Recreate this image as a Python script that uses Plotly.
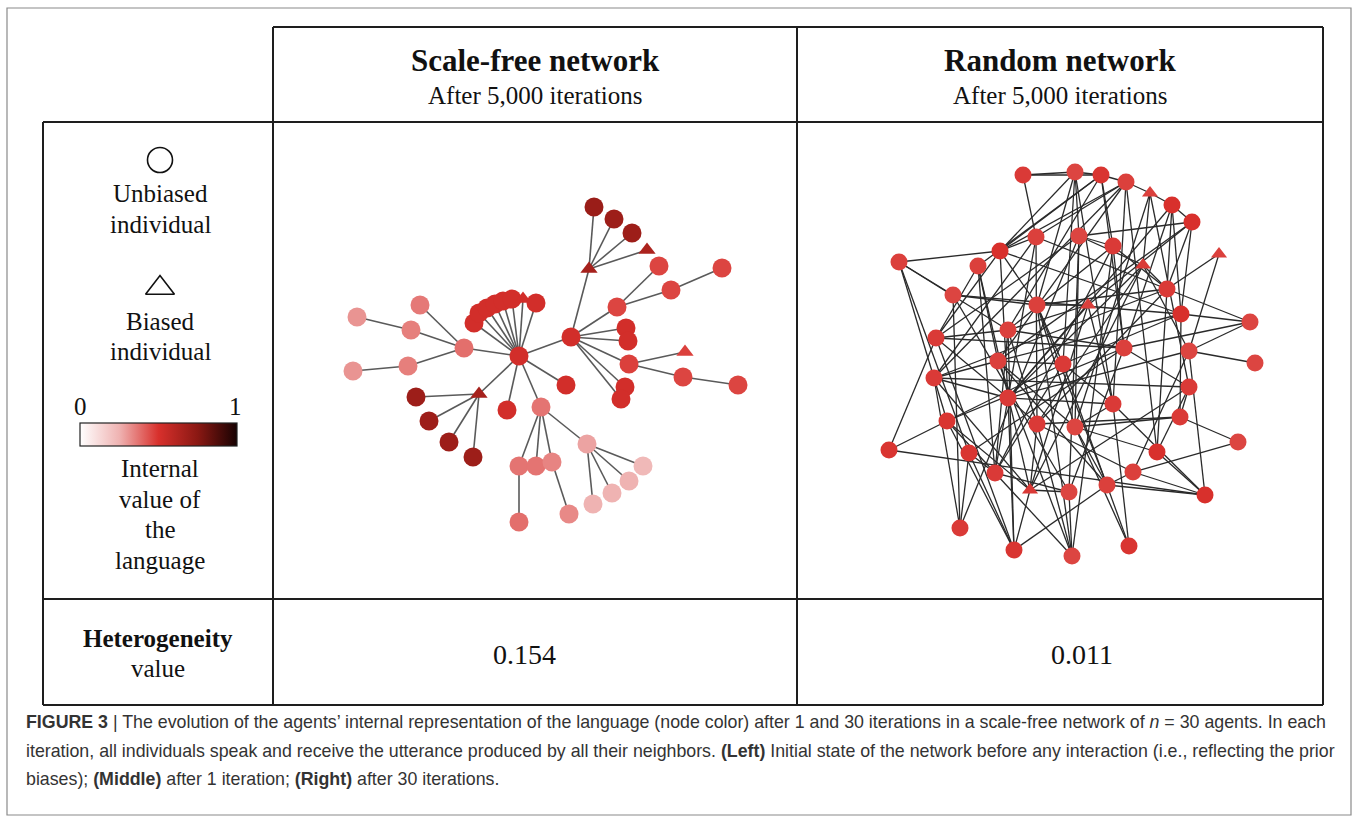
import plotly.graph_objects as go

W, H = 1357, 823

# ---------------- Scale-free network (node id: x, y, value, shape) ----------------
sf_id = ["A", "B", "C", "D", "E", "F", "G", "Hh", "I",
         "a1", "a2", "a3", "a4", "a5", "a6", "a7", "a8",
         "l1", "l2",
         "c1", "c2", "c3", "c4", "c5",
         "d1", "d2", "d3", "d4",
         "e1", "e2", "e3", "e4", "e5",
         "f1", "f2", "f3", "f4",
         "b1", "b2", "b3", "b4",
         "g1", "g2", "g3", "g4",
         "h1", "h2", "h3",
         "i1", "i2", "i3"]
sf_x = [519, 571, 464, 479, 541, 587, 589, 617, 629,
        474, 479, 487, 495, 503, 512, 523, 536,
        507, 566,
        420, 411, 408, 357, 353,
        416, 429, 449, 473,
        519, 536, 552, 519, 569,
        593, 612, 629, 643,
        626, 628, 625, 621,
        594, 614, 632, 647,
        659, 671, 722,
        685, 683, 738]
sf_y = [356, 337, 348, 394, 407, 444, 269, 307, 364,
        323, 313, 308, 304, 301, 299, 299, 303,
        410, 385,
        305, 330, 366, 317, 371,
        397, 421, 442, 457,
        466, 466, 462, 522, 514,
        504, 493, 481, 466,
        328, 341, 387, 399,
        207, 219, 233, 250,
        266, 290, 268,
        352, 377, 385]
sf_val = [0.52, 0.52, 0.38, 0.66, 0.37, 0.28, 0.66, 0.46, 0.47,
          0.52, 0.52, 0.52, 0.52, 0.52, 0.52, 0.52, 0.52,
          0.52, 0.52,
          0.36, 0.35, 0.35, 0.31, 0.31,
          0.69, 0.69, 0.69, 0.69,
          0.37, 0.37, 0.34, 0.38, 0.33,
          0.25, 0.25, 0.25, 0.23,
          0.52, 0.52, 0.52, 0.52,
          0.70, 0.69, 0.69, 0.64,
          0.46, 0.46, 0.46,
          0.47, 0.46, 0.46]
sf_shape = ["circle"] * len(sf_id)
for k in ("D", "G", "a7", "g4", "i1"):
    sf_shape[sf_id.index(k)] = "triangle-up"

sf_edges = [("A", "B"), ("A", "C"), ("A", "D"), ("A", "E"), ("A", "l1"), ("A", "l2"),
            ("A", "a1"), ("A", "a2"), ("A", "a3"), ("A", "a4"), ("A", "a5"), ("A", "a6"),
            ("A", "a7"), ("A", "a8"),
            ("C", "c1"), ("C", "c2"), ("C", "c3"), ("c2", "c4"), ("c3", "c5"),
            ("D", "d1"), ("D", "d2"), ("D", "d3"), ("D", "d4"),
            ("E", "e1"), ("E", "e2"), ("E", "e3"), ("E", "F"), ("e1", "e4"), ("e3", "e5"),
            ("F", "f1"), ("F", "f2"), ("F", "f3"), ("F", "f4"),
            ("B", "G"), ("B", "Hh"), ("B", "b1"), ("B", "b2"), ("B", "I"), ("B", "b3"), ("B", "b4"),
            ("G", "g1"), ("G", "g2"), ("G", "g3"), ("G", "g4"),
            ("Hh", "h1"), ("Hh", "h2"), ("h2", "h3"),
            ("I", "i1"), ("I", "i2"), ("i2", "i3")]

# ---------------- Random network ----------------
rn_x = [1023, 1075, 1101, 1126, 1150, 1172, 1192, 1036, 1079, 1113,
        1000, 899, 978, 1143, 1219, 1167, 953, 1037, 1088, 1181,
        1250, 1008, 936, 1124, 1189, 998, 1063, 1255, 934, 1189,
        1008, 1113, 947, 1180, 1037, 1075, 1238, 889, 969, 1157,
        995, 1133, 1107, 1069, 1030, 1205, 960, 1014, 1072, 1129]
rn_y = [175, 172, 175, 182, 193, 205, 222, 237, 236, 246,
        251, 262, 266, 265, 254, 289, 295, 305, 305, 314,
        322, 330, 338, 348, 351, 361, 364, 363, 378, 387,
        398, 404, 421, 417, 424, 427, 442, 450, 453, 452,
        473, 472, 485, 492, 490, 495, 528, 550, 556, 546]
rn_val = [0.48, 0.46, 0.49, 0.47, 0.47, 0.5, 0.5, 0.47, 0.46, 0.48,
          0.5, 0.47, 0.47, 0.48, 0.47, 0.48, 0.46, 0.47, 0.47, 0.5,
          0.46, 0.47, 0.48, 0.47, 0.46, 0.47, 0.48, 0.46, 0.48, 0.48,
          0.48, 0.48, 0.49, 0.48, 0.48, 0.46, 0.46, 0.49, 0.49, 0.5,
          0.48, 0.47, 0.47, 0.46, 0.48, 0.5, 0.48, 0.49, 0.46, 0.49]
rn_shape = ["circle"] * len(rn_x)
for k in (5, 14, 15, 19, 45):
    rn_shape[k - 1] = "triangle-up"

rn_edges = [(1, 2), (1, 8), (1, 3), (2, 3), (2, 9), (2, 18), (2, 27), (2, 32), (2, 11),
            (3, 4), (3, 11), (3, 22), (3, 24), (3, 10), (4, 5), (4, 11), (4, 8), (4, 26),
            (4, 32), (4, 40), (5, 6), (5, 14), (5, 36), (5, 30), (6, 7), (6, 20), (6, 24),
            (6, 16), (7, 16), (7, 19), (19, 31), (7, 20), (7, 9), (8, 11), (8, 16), (8, 29),
            (8, 41), (9, 10), (9, 36), (9, 44), (9, 14), (9, 23), (10, 22), (10, 24),
            (10, 49), (10, 16), (11, 12), (11, 18), (11, 23), (11, 20), (12, 17), (12, 33),
            (12, 39), (13, 23), (13, 26), (13, 41), (14, 16), (14, 25), (14, 35), (14, 45),
            (14, 31), (15, 16), (15, 25), (16, 21), (16, 18), (16, 29), (16, 40), (17, 18),
            (17, 20), (17, 47), (18, 19), (18, 36), (18, 27), (18, 43), (19, 22), (19, 32),
            (19, 45), (20, 21), (20, 26), (20, 34), (21, 24), (21, 25), (22, 23), (22, 24),
            (22, 35), (22, 48), (23, 24), (23, 38), (23, 48), (24, 30), (24, 44), (24, 33),
            (25, 28), (25, 31), (25, 46), (25, 42), (26, 27), (26, 43), (26, 29), (26, 49),
            (27, 32), (27, 50), (27, 33), (29, 30), (29, 31), (29, 47), (30, 34), (30, 40),
            (30, 45), (31, 32), (31, 48), (31, 35), (32, 46), (32, 50), (32, 36), (33, 38),
            (33, 45), (33, 48), (34, 37), (34, 36), (34, 35), (35, 45), (35, 42), (35, 49),
            (36, 43), (36, 50), (37, 42), (38, 46), (39, 41), (39, 47), (39, 48), (40, 46),
            (41, 44), (42, 43), (42, 46), (43, 46), (43, 48), (44, 49), (44, 45), (45, 48),
            (11, 31), (13, 45), (17, 44), (23, 31), (26, 36), (29, 45), (22, 41), (8, 35),
            (10, 41), (3, 13), (4, 29), (6, 31), (7, 26), (16, 35), (20, 27), (24, 39),
            (27, 41), (33, 49), (36, 40), (18, 49), (9, 47), (12, 22)]

# ---------------- Table texts ----------------
col_titles = ["Scale-free network", "Random network"]
col_subtitle = "After 5,000 iterations"
heterogeneity = ["0.154", "0.011"]

colorscale = [[0.0, "#ffffff"], [0.25, "#efb3b2"], [0.5, "#d8302c"],
              [0.75, "#8a1813"], [1.0, "#170202"]]

fig = go.Figure()


def edge_xy(xs, ys, pairs):
    ex, ey = [], []
    for a, b in pairs:
        ex += [xs[a], xs[b], None]
        ey += [ys[a], ys[b], None]
    return ex, ey


idx = {k: i for i, k in enumerate(sf_id)}
ex, ey = edge_xy(sf_x, sf_y, [(idx[a], idx[b]) for a, b in sf_edges])
fig.add_trace(go.Scatter(x=ex, y=ey, mode="lines",
                         line=dict(color="#5a5a5a", width=1.6), hoverinfo="skip"))
ex, ey = edge_xy(rn_x, rn_y, [(a - 1, b - 1) for a, b in rn_edges])
fig.add_trace(go.Scatter(x=ex, y=ey, mode="lines",
                         line=dict(color="#2a2a2a", width=1.3), hoverinfo="skip"))

# nodes
fig.add_trace(go.Scatter(
    x=sf_x, y=sf_y, mode="markers",
    marker=dict(symbol=sf_shape, size=[19 if s == "circle" else 15 for s in sf_shape],
                color=sf_val, coloraxis="coloraxis", opacity=1, line=dict(width=0))))
fig.add_trace(go.Scatter(
    x=rn_x, y=rn_y, mode="markers",
    marker=dict(symbol=rn_shape, size=[17 if s == "circle" else 14 for s in rn_shape],
                color=rn_val, coloraxis="coloraxis", opacity=1, line=dict(width=0))))

# legend symbols
fig.add_trace(go.Scatter(x=[160, 160], y=[160, 288], mode="markers",
                         marker=dict(symbol=["circle-open", "triangle-up-open"],
                                     size=[25, 25], color="#111", opacity=1,
                                     line=dict(width=1.6, color="#111"))))

# ---------------- frame and table lines ----------------
shapes = []
shapes.append(dict(type="rect", x0=7, y0=8, x1=1351, y1=815,
                   line=dict(color="#8a8a8a", width=1.2)))
lc = dict(color="#1e1e1e", width=2)
for (x0, y0, x1, y1) in [(273, 27, 1323, 27), (43, 122, 1323, 122), (43, 599, 1323, 599),
                         (43, 705, 1323, 705), (43, 122, 43, 705), (273, 27, 273, 705),
                         (797, 27, 797, 705), (1323, 27, 1323, 705)]:
    shapes.append(dict(type="line", x0=x0, y0=y0, x1=x1, y1=y1, line=lc))

serif = "Liberation Serif, Times New Roman, serif"
ann = []


def t(x, y, s, size, bold=False, anchor="center", family=serif, color="#111"):
    ann.append(dict(x=x, y=y, text=f"<b>{s}</b>" if bold else s, showarrow=False,
                    xanchor=anchor, yanchor="middle",
                    font=dict(family=family, size=size, color=color)))


for cx, title in zip([535, 1060], col_titles):
    t(cx, 60, title, 31, bold=True)
    t(cx, 95, col_subtitle, 25)
for cx, v in zip([524, 1082], heterogeneity):
    t(cx, 654, v, 28)

for y, s in [(193, "Unbiased"), (224, "individual"), (321, "Biased"), (351, "individual"),
             (468, "Internal"), (499, "value of"), (529, "the"), (560, "language")]:
    t(160, y, s, 25)
t(80, 406, "0", 25)
t(235, 406, "1", 25)
t(158, 638, "Heterogeneity", 25, bold=True)
t(158, 668, "value", 25)

cap = "Liberation Sans, Arial, Helvetica, sans-serif"
cap_lines = [
    "<b>FIGURE 3</b> | The evolution of the agents’ internal representation of the language (node color) after 1 and 30 iterations in a scale-free network of <i>n</i> = 30 agents. In each",
    "iteration, all individuals speak and receive the utterance produced by all their neighbors. <b>(Left)</b> Initial state of the network before any interaction (i.e., reflecting the prior",
    "biases); <b>(Middle)</b> after 1 iteration; <b>(Right)</b> after 30 iterations.",
]
for y, s, fs in zip([722, 751, 779], cap_lines, [17.8, 17.8, 17.8]):
    t(24, y, s, fs, anchor="left", family=cap, color="#333333")

fig.update_layout(
    width=W, height=H, margin=dict(l=0, r=0, t=0, b=0, autoexpand=False),
    paper_bgcolor="white", plot_bgcolor="white", showlegend=False,
    xaxis=dict(range=[0, W], visible=False, fixedrange=True),
    yaxis=dict(range=[H, 0], visible=False, fixedrange=True),
    shapes=shapes, annotations=ann,
    coloraxis=dict(colorscale=colorscale, cmin=0, cmax=1,
                   colorbar=dict(orientation="h", x=80 / W, xanchor="left",
                                 y=1 - 423 / H, yanchor="top",
                                 len=157, lenmode="pixels", thickness=23,
                                 thicknessmode="pixels", outlinewidth=1.2,
                                 outlinecolor="#222", showticklabels=False, ticks="",
                                 xpad=0, ypad=0)),
)

fig.write_html("out.html", config={"displayModeBar": False},
               post_script="document.body.style.margin='0';")
